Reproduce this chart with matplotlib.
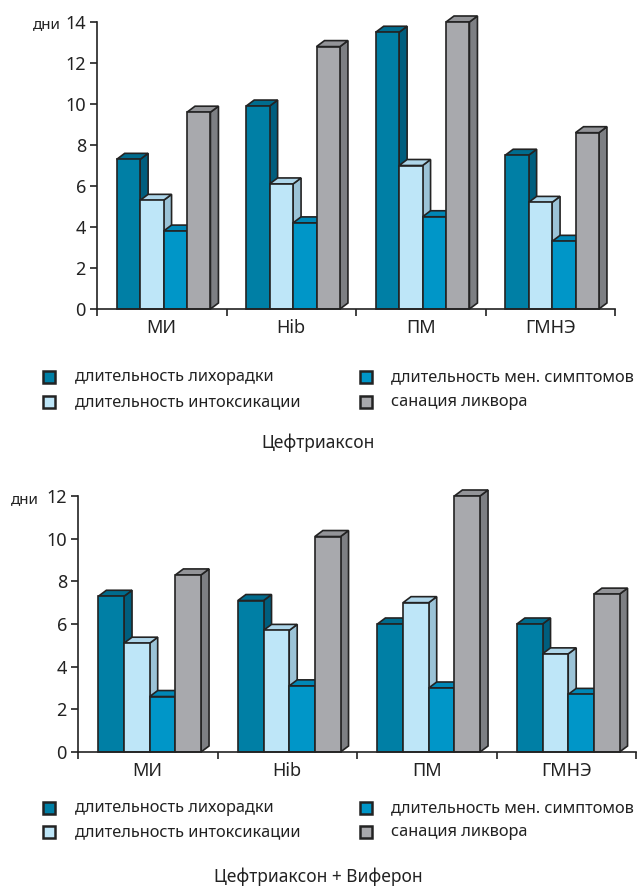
import numpy as np
import matplotlib.pyplot as plt
from matplotlib.patches import Polygon, Rectangle

plt.rcParams['font.family'] = ['Noto Sans', 'DejaVu Sans']

categories = ["МИ", "Hib", "ПМ", "ГМНЭ"]
series = ["длительность лихорадки", "длительность интоксикации",
          "длительность мен. симптомов", "санация ликвора"]

# Цефтриаксон
top_fever = [7.3, 9.9, 13.5, 7.5]
top_intox = [5.3, 6.1, 7.0, 5.2]
top_mening = [3.8, 4.2, 4.5, 3.3]
top_liquor = [9.6, 12.8, 14.0, 8.6]

# Цефтриаксон + Виферон
bot_fever = [7.3, 7.1, 6.0, 6.0]
bot_intox = [5.1, 5.7, 7.0, 4.6]
bot_mening = [2.6, 3.1, 3.0, 2.7]
bot_liquor = [8.3, 10.1, 12.0, 7.4]

front = ["#007FA5", "#BEE6F8", "#0096C8", "#A8A9AD"]
side = ["#005E7E", "#9BC3D7", "#0078A6", "#7D7F83"]
topc = ["#006C8E", "#AED6EA", "#0087B6", "#939498"]
edge = "#232323"
txt = "#222222"

W, H = 639, 889
fig = plt.figure(figsize=(W / 100, H / 100), dpi=100)


def px_box(l, r, b, t):
    return [l / W, 1 - b / H, (r - l) / W, (b - t) / H]


def draw_chart(ax, data, ymax, start, bw):
    ax.set_xlim(0, 4)
    ax.set_ylim(0, ymax)
    bbox = ax.get_position()
    ax_wpx = bbox.width * W
    ax_hpx = bbox.height * H
    dx = 8 / ax_wpx * 4
    dy = 6 / ax_hpx * ymax
    for g in range(len(categories)):
        for s, vals in enumerate(data):
            x = g + start + s * bw
            h = vals[g]
            z = 2 + g * 10 + s
            ax.add_patch(Polygon([(x + bw, 0), (x + bw + dx, dy), (x + bw + dx, h + dy), (x + bw, h)],
                                 closed=True, fc=side[s], ec=edge, lw=1.2, zorder=z, clip_on=False))
            ax.add_patch(Polygon([(x, h), (x + dx, h + dy), (x + bw + dx, h + dy), (x + bw, h)],
                                 closed=True, fc=topc[s], ec=edge, lw=1.2, zorder=z, clip_on=False))
            ax.bar(x, h, width=bw, align='edge', color=front[s], edgecolor=edge, lw=1.2,
                   zorder=z + 0.5, clip_on=False)
    ax.set_yticks(np.arange(0, ymax + 1, 2))
    ax.set_xticks(np.arange(0, 5))
    ax.set_xticklabels([])
    ax.set_xticks(np.arange(len(categories)) + 0.5, minor=True)
    ax.set_xticklabels(categories, minor=True, fontsize=13, color=txt)
    ax.tick_params(axis='x', which='minor', length=0, pad=7)
    ax.tick_params(axis='x', which='major', length=5, width=1.2, color=edge)
    ax.tick_params(axis='y', length=5, width=1.2, color=edge, labelsize=13,
                   labelcolor=txt, pad=3)
    for sp in ['top', 'right']:
        ax.spines[sp].set_visible(False)
    for sp in ['left', 'bottom']:
        ax.spines[sp].set_linewidth(1.2)
        ax.spines[sp].set_color(edge)
        ax.spines[sp].set_zorder(100)


def draw_legend(rows_y, title, title_y):
    for i, name in enumerate(series):
        col, row = i // 2, i % 2
        sx = [49, 366][col]
        tx = [75, 391][col]
        y = rows_y[row]
        fig.add_artist(Rectangle(((sx - 6) / W, 1 - (y + 6) / H), 12 / W, 12 / H,
                                 transform=fig.transFigure, fc=front[i], ec=edge, lw=1.8))
        fig.text(tx / W, 1 - y / H, name, fontsize=11.8, va='center', ha='left', color=txt)
    fig.text(318 / W, 1 - title_y / H, title, fontsize=12.5, va='center', ha='center', color=txt)


ax1 = fig.add_axes(px_box(97, 615, 309, 22))
draw_chart(ax1, [top_fever, top_intox, top_mening, top_liquor], 14, 0.152, 0.181)
fig.text(47 / W, 1 - 25 / H, "дни", fontsize=11, ha='center', va='center', color=txt)
draw_legend([377, 402], "Цефтриаксон", 443)

ax2 = fig.add_axes(px_box(78, 636, 752, 496))
draw_chart(ax2, [bot_fever, bot_intox, bot_mening, bot_liquor], 12, 0.146, 0.184)
fig.text(25 / W, 1 - 500 / H, "дни", fontsize=11, ha='center', va='center', color=txt)
draw_legend([808, 832], "Цефтриаксон + Виферон", 877)

fig.savefig("out.png", dpi=100)
